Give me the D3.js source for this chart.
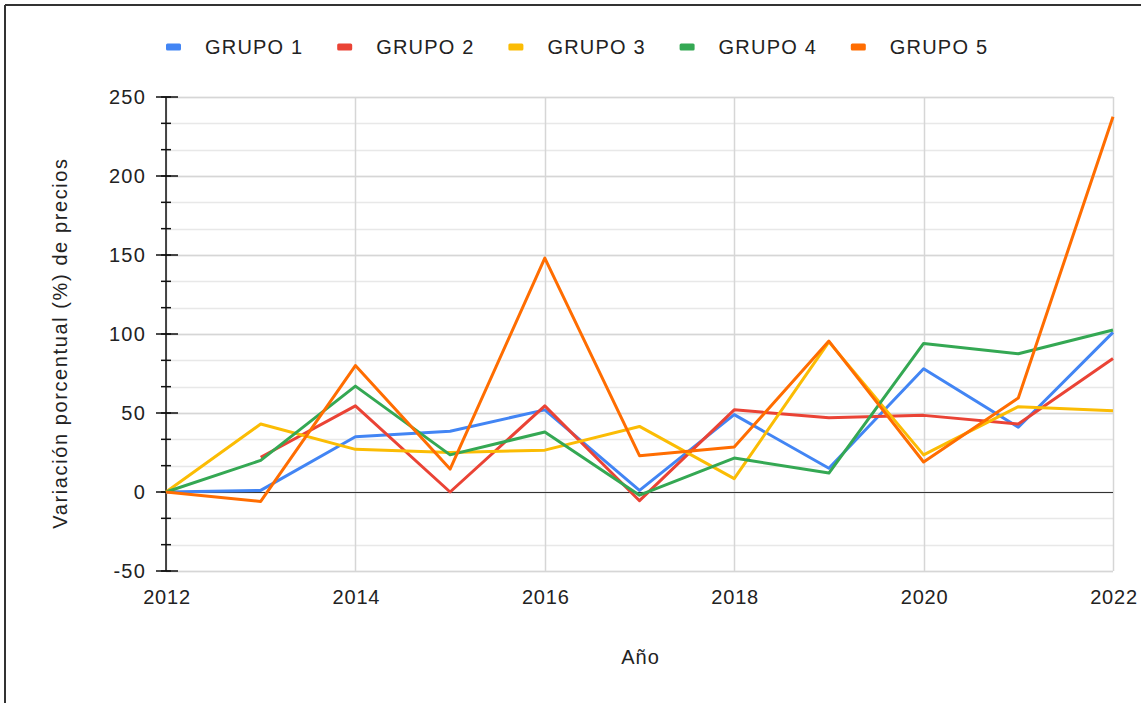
<!DOCTYPE html>
<html>
<head>
<meta charset="utf-8">
<script src="https://cdn.jsdelivr.net/npm/d3@7"></script>
<style>
  body { margin: 0; background: #fff; }
  text { font-family: "Liberation Sans", Arial, sans-serif; fill: #222; }
</style>
</head>
<body>
<div id="chart"></div>
<script>
// Data
let years = [2012, 2013, 2014, 2015, 2016, 2017, 2018, 2019, 2020, 2021, 2022];
let seriesNames = ["GRUPO 1", "GRUPO 2", "GRUPO 3", "GRUPO 4", "GRUPO 5"];
let seriesColors = ["#4285f4", "#ea4335", "#fbbc04", "#34a853", "#ff6d01"];
let grupo1 = [0, 1, 35, 38.5, 52, 1, 49, 15, 78, 41, 101];
let grupo2 = [null, 22, 54.5, 0, 54.5, -5.5, 52, 47, 48.5, 43, 84.5];
let grupo3 = [0, 43, 27, 25, 26.5, 41.5, 8.5, 95, 23.5, 54, 51.5];
let grupo4 = [0, 20, 67, 23.5, 38, -2, 21.5, 12, 94, 87.5, 102.5];
let grupo5 = [0, -6, 80, 14.5, 148, 23, 28.5, 95.5, 19, 59.5, 237.5];
let yTicks = [-50, 0, 50, 100, 150, 200, 250];
let xTicks = [2012, 2014, 2016, 2018, 2020, 2022];
let xTitle = "Año";
let yTitle = "Variación porcentual (%) de precios";

let allSeries = [grupo1, grupo2, grupo3, grupo4, grupo5];

function gen_line_chart() {
    let width = 1141,
        height = 703;
    let margin = {left: 166, right: 28, top: 97, bottom: 132};

    let svg = d3.select("#chart")
        .append("svg")
        .attr("width", width)
        .attr("height", height);

    // outer frame (only top and left visible)
    svg.append("line")
        .attr("x1", 5).attr("x2", width).attr("y1", 5).attr("y2", 5)
        .attr("stroke", "#333").attr("stroke-width", 2);
    svg.append("line")
        .attr("x1", 5).attr("x2", 5).attr("y1", 5).attr("y2", height)
        .attr("stroke", "#333").attr("stroke-width", 2);

    let x = d3.scaleLinear()
        .domain([2012, 2022])
        .range([margin.left, width - margin.right]);

    let y = d3.scaleLinear()
        .domain([-50, 250])
        .range([height - margin.bottom, margin.top]);

    let minorTicks = d3.range(-50, 250.01, 50 / 3);

    // minor gridlines
    svg.append("g").selectAll("line")
        .data(minorTicks)
        .enter().append("line")
        .attr("x1", x(2012)).attr("x2", x(2022))
        .attr("y1", d => Math.round(y(d)) + 0.5).attr("y2", d => Math.round(y(d)) + 0.5)
        .attr("stroke", "#e8e8e8").attr("stroke-width", 1.5);

    // major horizontal gridlines
    svg.append("g").selectAll("line")
        .data(yTicks)
        .enter().append("line")
        .attr("x1", x(2012)).attr("x2", x(2022))
        .attr("y1", d => Math.round(y(d)) + 0.5).attr("y2", d => Math.round(y(d)) + 0.5)
        .attr("stroke", "#d6d6d6").attr("stroke-width", 1.5);

    // vertical gridlines
    svg.append("g").selectAll("line")
        .data(xTicks)
        .enter().append("line")
        .attr("x1", d => Math.round(x(d)) + 0.5).attr("x2", d => Math.round(x(d)) + 0.5)
        .attr("y1", y(250)).attr("y2", y(-50))
        .attr("stroke", "#d6d6d6").attr("stroke-width", 1.5);

    // zero baseline
    svg.append("line")
        .attr("x1", x(2012)).attr("x2", x(2022))
        .attr("y1", Math.round(y(0)) + 0.5).attr("y2", Math.round(y(0)) + 0.5)
        .attr("stroke", "#333").attr("stroke-width", 1.2);

    // y axis line + ticks
    svg.append("line")
        .attr("x1", x(2012)).attr("x2", x(2012))
        .attr("y1", y(250)).attr("y2", y(-50))
        .attr("stroke", "#111").attr("stroke-width", 1.5);

    svg.append("g").selectAll("line")
        .data(minorTicks)
        .enter().append("line")
        .attr("x1", x(2012) - 5).attr("x2", x(2012) + 5)
        .attr("y1", d => y(d)).attr("y2", d => y(d))
        .attr("stroke", "#111").attr("stroke-width", 1.5);

    svg.append("g").selectAll("line")
        .data(yTicks)
        .enter().append("line")
        .attr("x1", x(2012) - 10).attr("x2", x(2012) + 12)
        .attr("y1", d => y(d)).attr("y2", d => y(d))
        .attr("stroke", "#111").attr("stroke-width", 1.5);

    // y tick labels
    svg.append("g").selectAll("text")
        .data(yTicks)
        .enter().append("text")
        .attr("x", x(2012) - 20)
        .attr("y", d => y(d) + 7)
        .attr("text-anchor", "end")
        .style("font-size", "20px")
        .style("letter-spacing", "1.2px")
        .text(d => d);

    // x tick labels
    svg.append("g").selectAll("text")
        .data(xTicks)
        .enter().append("text")
        .attr("x", d => x(d) + 1)
        .attr("y", y(-50) + 33)
        .attr("text-anchor", "middle")
        .style("font-size", "20px")
        .style("letter-spacing", "0.8px")
        .text(d => d);

    // axis titles
    svg.append("text")
        .attr("x", (x(2012) + x(2022)) / 2 + 1)
        .attr("y", 664)
        .attr("text-anchor", "middle")
        .style("font-size", "20px")
        .style("letter-spacing", "1px")
        .text(xTitle);

    svg.append("text")
        .attr("transform", "translate(67," + ((y(250) + y(-50)) / 2 + 9) + ") rotate(-90)")
        .attr("text-anchor", "middle")
        .style("font-size", "20px")
        .style("letter-spacing", "1.6px")
        .text(yTitle);

    // lines
    let line = d3.line()
        .defined(d => d.v !== null)
        .x(d => x(d.year))
        .y(d => y(d.v));

    allSeries.forEach(function(values, i) {
        let points = years.map((yr, j) => ({year: yr, v: values[j]}));
        svg.append("path")
            .datum(points)
            .attr("d", line)
            .attr("fill", "none")
            .attr("stroke", seriesColors[i])
            .attr("stroke-width", 3)
            .attr("stroke-linejoin", "round");
    });

    // legend
    let legend = svg.append("g")
        .attr("transform", "translate(166,47)");

    let items = legend.selectAll("g")
        .data(seriesNames)
        .enter().append("g")
        .attr("transform", (d, i) => "translate(" + (i * 171.2) + ",0)");

    items.append("rect")
        .attr("x", 0).attr("y", -3.5)
        .attr("width", 15).attr("height", 7)
        .attr("rx", 1.5)
        .attr("fill", (d, i) => seriesColors[i]);

    items.append("text")
        .attr("x", 39)
        .attr("y", 7)
        .style("font-size", "20px")
        .style("letter-spacing", "1.2px")
        .text(d => d);
}

// MAIN
gen_line_chart();
</script>
</body>
</html>
